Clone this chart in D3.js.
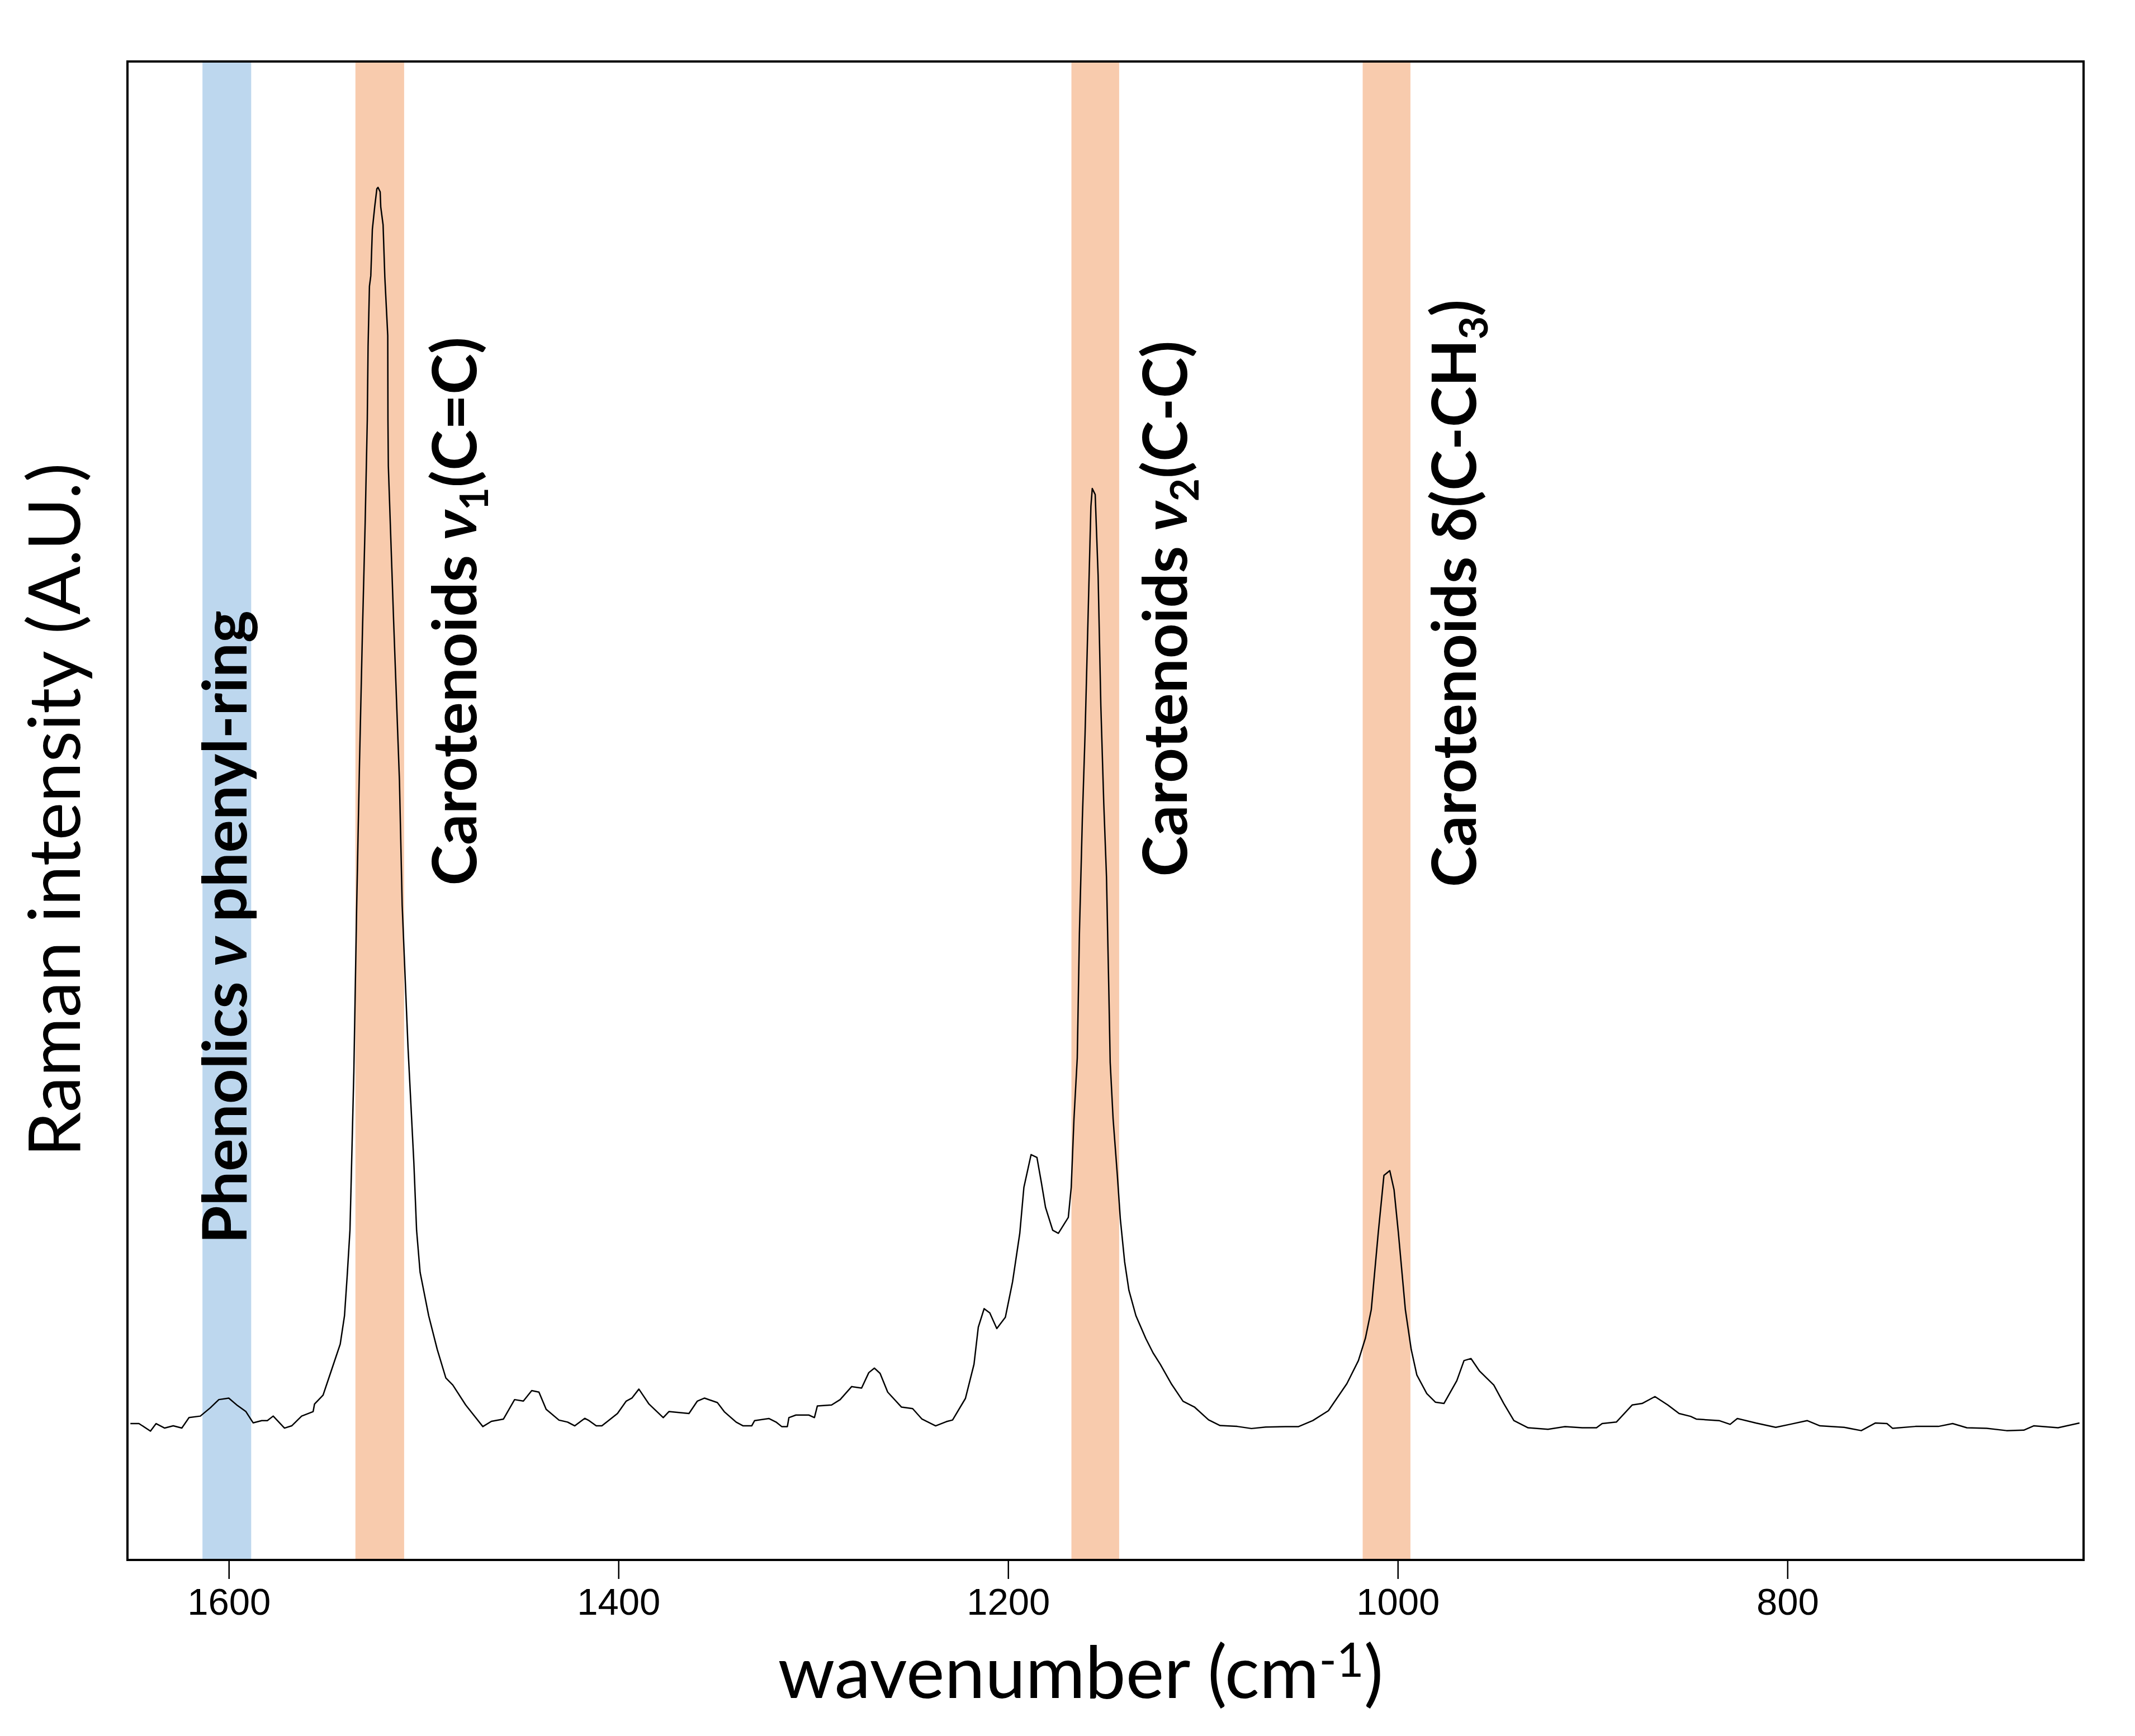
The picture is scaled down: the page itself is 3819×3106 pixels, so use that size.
<!DOCTYPE html>
<html>
<head>
<meta charset="utf-8">
<script src="https://cdn.jsdelivr.net/npm/d3@7"></script>
<style>
  body { margin: 0; background: #fff; }
</style>
</head>
<body>
<svg id="chart"></svg>
<script>
// spectrum (wavenumber in cm-1, intensity in arbitrary units)
const wavenumber = [
  1650.5, 1646.1, 1640.2, 1637.3, 1632.9, 1628.5, 1624.1, 1620.4, 1614.6, 1609.5,
  1605.1, 1600, 1595.5, 1591.2, 1587.5, 1583.1, 1580.2, 1577.2, 1571.4, 1567.7,
  1562.6, 1556.7, 1556, 1551.6, 1547.2, 1542.8, 1540.6, 1539.2, 1537.8, 1537.3,
  1535.8, 1534.4, 1532.9, 1531.4, 1530, 1528.9, 1528.5, 1527.8, 1527.1, 1526.3,
  1525.1, 1524, 1523.4, 1522.3, 1522, 1520.8, 1519.9, 1518.4, 1518.3, 1518.1,
  1515.4, 1512.4, 1511, 1508, 1505, 1503.6, 1501.8, 1497.4, 1493, 1488.6,
  1485, 1478.4, 1469.6, 1465.2, 1459, 1453.3, 1448.8, 1444.5, 1440.8, 1437.1,
  1430.5, 1426.1, 1422.4, 1417.3, 1415.1, 1411.4, 1408.5, 1400.5, 1396, 1393.1,
  1389.5, 1384.3, 1377, 1374.1, 1363.8, 1359.5, 1355.8, 1349.2, 1345.5, 1339.6,
  1336, 1331.6, 1330.1, 1322.8, 1319.1, 1316.2, 1313.3, 1312.5, 1308.9, 1302.3,
  1299.4, 1297.9, 1290.6, 1286.2, 1280.3, 1275.2, 1271.5, 1268.6, 1265.7, 1261.8,
  1254.7, 1249, 1244.2, 1237.2, 1231.7, 1228.5, 1221.9, 1217.5, 1215.3, 1212.3,
  1209.4, 1205.8, 1201.4, 1197.7, 1194, 1191.9, 1188.2, 1185.2, 1183, 1180.8,
  1177.1, 1174.2, 1169.1, 1167.6, 1166.2, 1164.5, 1163.4, 1161.9, 1160.5, 1159,
  1157.5, 1156.8, 1155.3, 1153.8, 1152.4, 1150.9, 1149.5, 1148.3, 1147.6, 1146.1,
  1143.9, 1142.4, 1140.2, 1138, 1134.4, 1129.3, 1125.6, 1121.9, 1116.1, 1110.2,
  1104.4, 1097.1, 1091.2, 1082.4, 1075.1, 1067.8, 1057.6, 1050.9, 1043.6, 1035.6,
  1026.1, 1020.2, 1016.6, 1013.6, 1010, 1007.1, 1004.1, 1001.9, 999.7, 996.1,
  993.1, 990.2, 985.1, 980.7, 976.3, 969.7, 966, 962.4, 958, 950.7,
  945.6, 940.4, 933.1, 922.9, 914.1, 905.3, 898, 895.1, 887.8, 879.7,
  874.6, 868, 861.4, 855.6, 849.7, 846.8, 835.1, 829.4, 825.7, 816.2,
  806, 798.7, 789.9, 783.3, 770.9, 762.1, 754.8, 748.9, 746, 734.3,
  722.5, 715.2, 707.9, 697.7, 687.5, 678.7, 673.6, 661.1, 650.1
];
const intensity = [
  91, 91, 86, 91, 88, 89.5, 88, 95, 96, 101.5,
  107, 108, 103, 99, 91.5, 93, 93, 96, 88, 89.5,
  96, 99, 104, 110, 127, 144, 163, 190, 220, 246,
  326, 433, 532, 619, 692, 761, 810, 850, 857, 888,
  903, 915, 916, 913, 903, 891, 856, 817, 761, 730,
  627, 520, 437, 342, 265, 220, 192, 163, 140.5, 121.5,
  116.7, 103.4, 89, 92.5, 94, 107, 106, 113, 112, 100.5,
  93.3, 92, 89.5, 94.5, 93, 89.5, 89.5, 97.7, 106, 108,
  114, 104, 95, 99, 97.7, 106, 108, 105, 98.7, 92,
  89.5, 89.5, 93, 94.4, 92, 89, 89, 95, 96.7, 96.7,
  95, 102.8, 103.4, 107, 115.7, 114.7, 125, 128, 124.5, 112,
  102, 101, 94, 89.5, 92.3, 93.4, 107.8, 130.6, 155.3, 167.7,
  164.9, 154.4, 162, 185.7, 218, 248.6, 270.5, 268.6, 252.4, 235.3,
  220, 218, 228.6, 248.6, 294, 335, 418, 494, 551, 627,
  703, 715, 711, 657, 570, 505, 456, 380, 332, 294.3,
  256.2, 227.6, 199.1, 180, 163, 147.7, 138.2, 130.6, 117.3, 105.9,
  102.1, 93.5, 89.7, 89.1, 87.7, 88.7, 89, 89, 93, 99.6,
  117.7, 133, 148, 167, 218.5, 256.6, 259.8, 247, 218.5, 167,
  140.5, 123.4, 111, 105.3, 104.4, 119.6, 133, 134.4, 126, 116.7,
  104.4, 93, 88.2, 87.2, 89, 88.2, 88.2, 91, 92, 103.4,
  104.4, 109, 103.4, 97.7, 95.8, 94, 93, 90.5, 94.4, 91.4,
  88.5, 90.5, 93, 89.5, 88.5, 86.3, 91.4, 91, 87.8, 89.1,
  89.1, 91, 88.2, 87.8, 86.3, 86.6, 89.5, 88.2, 91.4
];

// highlighted bands (cm-1)
const bandFrom = [1613.5, 1535, 1167.5, 1018];
const bandTo = [1588.5, 1510, 1143, 993.5];
const bandGroup = ["phenolics", "carotenoids", "carotenoids", "carotenoids"];

// band labels: text pieces ("sub" = subscript, "nu" = greek nu), anchored at (wavenumber, intensity)
const labelParts = [
  [["Phenolics ", ""], ["ν", "nu"], [" phenyl-ring", ""]],
  [["Carotenoids ", ""], ["ν", "nu"], ["1", "sub"], ["(C=C)", ""]],
  [["Carotenoids ", ""], ["ν", "nu"], ["2", "sub"], ["(C-C)", ""]],
  [["Carotenoids δ(C-CH", ""], ["3", "sub"], [")", ""]]
];
const labelWavenumber = [1591, 1473, 1108.3, 960];
const labelIntensity = [211, 450, 456, 449];

const tickValues = [1600, 1400, 1200, 1000, 800];
const xDomain = [1652, 648];
const yDomain = [0, 1000];

const W = 3819, H = 3106;
const margin = { top: 110, right: 92, bottom: 315, left: 228 };
const calibri = "Lato, 'Open Sans', sans-serif";
const bandColor = { phenolics: "#BDD7EE", carotenoids: "#F8CBAD" };

const svg = d3.select("#chart").attr("width", W).attr("height", H);

const x = d3.scaleLinear().domain(xDomain).range([margin.left, W - margin.right]);
const y = d3.scaleLinear().domain(yDomain).range([H - margin.bottom, margin.top]);

// scale a text's font so its rendered length matches a length taken off the figure
function fitLength(sel, target) {
  const size = parseFloat(sel.attr("font-size"));
  const len = sel.node().getComputedTextLength();
  sel.attr("font-size", size * target / len);
}

// bands
svg.append("g")
  .selectAll("rect")
  .data(bandFrom.map((f, i) => ({ from: f, to: bandTo[i], group: bandGroup[i] })))
  .join("rect")
  .attr("x", d => x(d.from))
  .attr("width", d => x(d.to) - x(d.from))
  .attr("y", y(yDomain[1]))
  .attr("height", y(yDomain[0]) - y(yDomain[1]))
  .attr("fill", d => bandColor[d.group]);

// spectrum
const spectrum = wavenumber.map((w, i) => ({ w: w, v: intensity[i] }));
svg.append("path")
  .datum(spectrum)
  .attr("fill", "none")
  .attr("stroke", "#000")
  .attr("stroke-width", 2.5)
  .attr("stroke-linejoin", "round")
  .attr("d", d3.line().x(d => x(d.w)).y(d => y(d.v)));

// band labels
const labels = labelParts.map((parts, i) => {
  const t = svg.append("text")
    .attr("transform", `translate(${x(labelWavenumber[i])},${y(labelIntensity[i])}) rotate(-90)`)
    .attr("font-family", calibri)
    .attr("font-weight", 700)
    .attr("font-size", 110)
    .attr("fill", "#000");
  let wasSub = false;
  parts.forEach(([txt, kind]) => {
    const ts = t.append("tspan").text(txt);
    if (kind === "sub") {
      ts.attr("font-size", "65%").attr("dy", "0.3em");
      wasSub = true;
      return;
    }
    if (kind === "nu") ts.attr("font-style", "italic");
    if (wasSub) {
      ts.attr("dy", "-0.195em");
      wasSub = false;
    }
  });
  return t;
});
// one common size for the four labels, from their lengths in the figure
const labelTargets = [1153, 981, 960, 1033];
const ratio = d3.mean(labels, (t, i) => labelTargets[i] / t.node().getComputedTextLength());
labels.forEach(t => t.attr("font-size", 110 * ratio));

// frame
svg.append("rect")
  .attr("x", margin.left)
  .attr("y", margin.top)
  .attr("width", W - margin.left - margin.right)
  .attr("height", H - margin.top - margin.bottom)
  .attr("fill", "none")
  .attr("stroke", "#000")
  .attr("stroke-width", 4);

// x axis
const xAxis = svg.append("g")
  .attr("transform", `translate(0,${H - margin.bottom})`)
  .call(d3.axisBottom(x)
    .tickValues(tickValues)
    .tickFormat(d3.format("d"))
    .tickSize(34)
    .tickSizeOuter(0)
    .tickPadding(16));
xAxis.select(".domain").remove();
xAxis.selectAll(".tick line").attr("stroke", "#000").attr("stroke-width", 2.5);
xAxis.selectAll(".tick text")
  .attr("font-family", "'Liberation Sans', Arial, sans-serif")
  .attr("font-size", 67)
  .attr("fill", "#000");

// axis titles
const xTitle = svg.append("text")
  .attr("x", 1933)
  .attr("y", 3038)
  .attr("text-anchor", "middle")
  .attr("font-family", calibri)
  .attr("font-size", 130)
  .attr("fill", "#000");
xTitle.append("tspan").text("wavenumber (cm");
xTitle.append("tspan").text("-1").attr("font-size", "65%").attr("dy", "-0.45em");
xTitle.append("tspan").text(")").attr("dy", "0.29em");
fitLength(xTitle, 1083);

const yTitle = svg.append("text")
  .attr("transform", `translate(143,1449) rotate(-90)`)
  .attr("text-anchor", "middle")
  .attr("font-family", calibri)
  .attr("font-size", 130)
  .attr("fill", "#000")
  .text("Raman intensity (A.U.)");
fitLength(yTitle, 1242);
</script>
</body>
</html>
